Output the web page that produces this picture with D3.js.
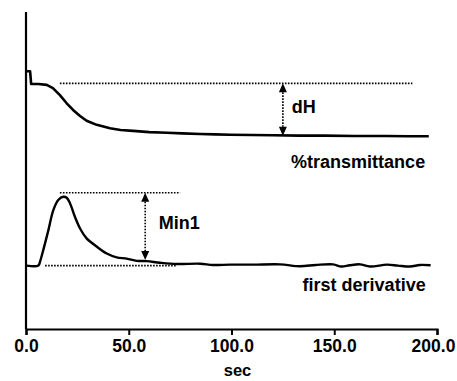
<!DOCTYPE html>
<html>
<head>
<meta charset="utf-8">
<script src="https://cdn.jsdelivr.net/npm/d3@7"></script>
<style>
  body { margin: 0; background: #fff; }
  text { font-family: "Liberation Sans", Arial, sans-serif; font-weight: bold; fill: #000; }
</style>
</head>
<body>
<div id="chart"></div>
<script>
// time (sec) and signal values (arbitrary units 0..100)
var transTime = [0.3, 2.0, 2.3, 2.5, 6.0, 10.1, 13.1, 16.5, 19.8, 22.9, 26.3, 29.5, 34.4, 40.9, 46.0, 52.1, 60.0, 68.6, 76.0, 84.7, 92.0, 99.3, 110.0, 120.0, 133.0, 145.0, 160.0, 175.0, 186.0, 196.0];
var transValue = [81.3, 81.3, 79.0, 77.3, 77.3, 77.0, 76.0, 73.8, 71.2, 69.1, 67.2, 65.7, 64.4, 63.3, 62.8, 62.5, 62.1, 61.9, 61.7, 61.5, 61.4, 61.3, 61.2, 61.1, 61.0, 61.0, 60.9, 60.9, 60.8, 60.8];

var derivTime = [0.3, 6.0, 6.8, 8.4, 10.9, 13.3, 15.7, 18.2, 19.8, 21.4, 23.8, 26.3, 29.5, 34.4, 39.3, 44.1, 49.0, 53.9, 58.7, 65.2, 73.3, 84.7, 91.0, 99.3, 110.5, 123.6, 133.3, 141.0, 149.4, 153.5, 157.5, 162.5, 167.4, 175.7, 181.0, 186.9, 191.7, 196.9];
var derivValue = [20.0, 20.0, 21.2, 24.9, 31.2, 37.5, 40.7, 41.7, 41.4, 39.7, 35.4, 31.7, 28.6, 26.0, 23.8, 22.6, 22.2, 21.5, 21.4, 20.9, 20.5, 20.6, 20.2, 20.3, 20.3, 20.4, 19.8, 20.2, 20.4, 19.7, 20.1, 20.4, 19.7, 20.3, 20.0, 19.7, 20.2, 20.1];

var xTicks = [0, 50, 100, 150, 200];

// dotted reference lines: [t0, t1, value]
var refLines = [
  [16.5, 188, 77.5],
  [16.5, 75, 43.0],
  [9.3, 73.5, 20.0]
];
// double-headed arrows: [t, vTop, vBottom]
var arrows = [
  [125, 77.5, 61.0],
  [58, 43.0, 21.8]
];
// labels: [text, t, v]
var labels = [
  ["dH", 129.3, 68.0],
  ["%transmittance", 129.0, 50.8],
  ["Min1", 64.6, 31.5],
  ["first derivative", 134.6, 12.0]
];

var width = 457, height = 381;
var margin = {top: 12, right: 20, bottom: 52, left: 26};

var svg = d3.select("#chart").append("svg")
    .attr("width", width)
    .attr("height", height);

var x = d3.scaleLinear().domain([0, 200]).range([margin.left, width - margin.right]);
var y = d3.scaleLinear().domain([0, 100]).range([height - margin.bottom, margin.top]);

// axes
svg.append("line")
    .attr("x1", x(0)).attr("x2", x(0))
    .attr("y1", y(100)).attr("y2", y(0))
    .attr("stroke", "#000").attr("stroke-width", 2.2);

var xAxis = svg.append("g")
    .attr("transform", "translate(0," + y(0) + ")")
    .call(d3.axisBottom(x).tickValues(xTicks).tickFormat(d3.format(".1f")).tickSizeOuter(0).tickSize(6).tickPadding(5));
xAxis.select(".domain").attr("stroke-width", 2.2);
xAxis.selectAll(".tick line").attr("stroke-width", 2);
xAxis.selectAll("text").style("font-size", "17.5px").style("font-family", "Liberation Sans, Arial, sans-serif").style("font-weight", "bold");
// last label is nudged left so it stays inside the frame
xAxis.selectAll(".tick").filter(function(d){ return d == 200; }).select("text").attr("dx", -4);

svg.append("text")
    .attr("x", x(100) + 6).attr("y", 376)
    .attr("text-anchor", "middle")
    .style("font-size", "16.5px")
    .text("sec");

// traces
var line = d3.line()
    .x(function(d){ return x(d[0]); })
    .y(function(d){ return y(d[1]); });

var trans = d3.zip(transTime, transValue);
var deriv = d3.zip(derivTime, derivValue);

svg.append("path").datum(trans)
    .attr("d", line.curve(d3.curveLinear))
    .attr("fill", "none").attr("stroke", "#000").attr("stroke-width", 2.6).attr("stroke-linejoin", "round");

svg.append("path").datum(deriv)
    .attr("d", line.curve(d3.curveCatmullRom))
    .attr("fill", "none").attr("stroke", "#000").attr("stroke-width", 2.4).attr("stroke-linejoin", "round");

// dotted reference lines
svg.selectAll(".ref").data(refLines).enter().append("line")
    .attr("class", "ref")
    .attr("x1", function(d){ return x(d[0]); })
    .attr("x2", function(d){ return x(d[1]); })
    .attr("y1", function(d){ return y(d[2]); })
    .attr("y2", function(d){ return y(d[2]); })
    .attr("stroke", "#000").attr("stroke-width", 1.6).attr("stroke-dasharray", "1.6,1.4");

// arrows
var ah = 9, aw = 4;
arrows.forEach(function(a){
    var ax = x(a[0]), yt = y(a[1]), yb = y(a[2]);
    svg.append("line")
        .attr("x1", ax).attr("x2", ax)
        .attr("y1", yt + ah).attr("y2", yb - ah)
        .attr("stroke", "#000").attr("stroke-width", 1.6).attr("stroke-dasharray", "1.6,1.4");
    svg.append("path")
        .attr("d", "M" + ax + "," + yt + "L" + (ax - aw) + "," + (yt + ah) + "L" + (ax + aw) + "," + (yt + ah) + "Z")
        .attr("fill", "#000");
    svg.append("path")
        .attr("d", "M" + ax + "," + yb + "L" + (ax - aw) + "," + (yb - ah) + "L" + (ax + aw) + "," + (yb - ah) + "Z")
        .attr("fill", "#000");
});

// labels
svg.selectAll(".lbl").data(labels).enter().append("text")
    .attr("class", "lbl")
    .attr("x", function(d){ return x(d[1]); })
    .attr("y", function(d){ return y(d[2]); })
    .style("font-size", "18px")
    .text(function(d){ return d[0]; });
</script>
</body>
</html>
